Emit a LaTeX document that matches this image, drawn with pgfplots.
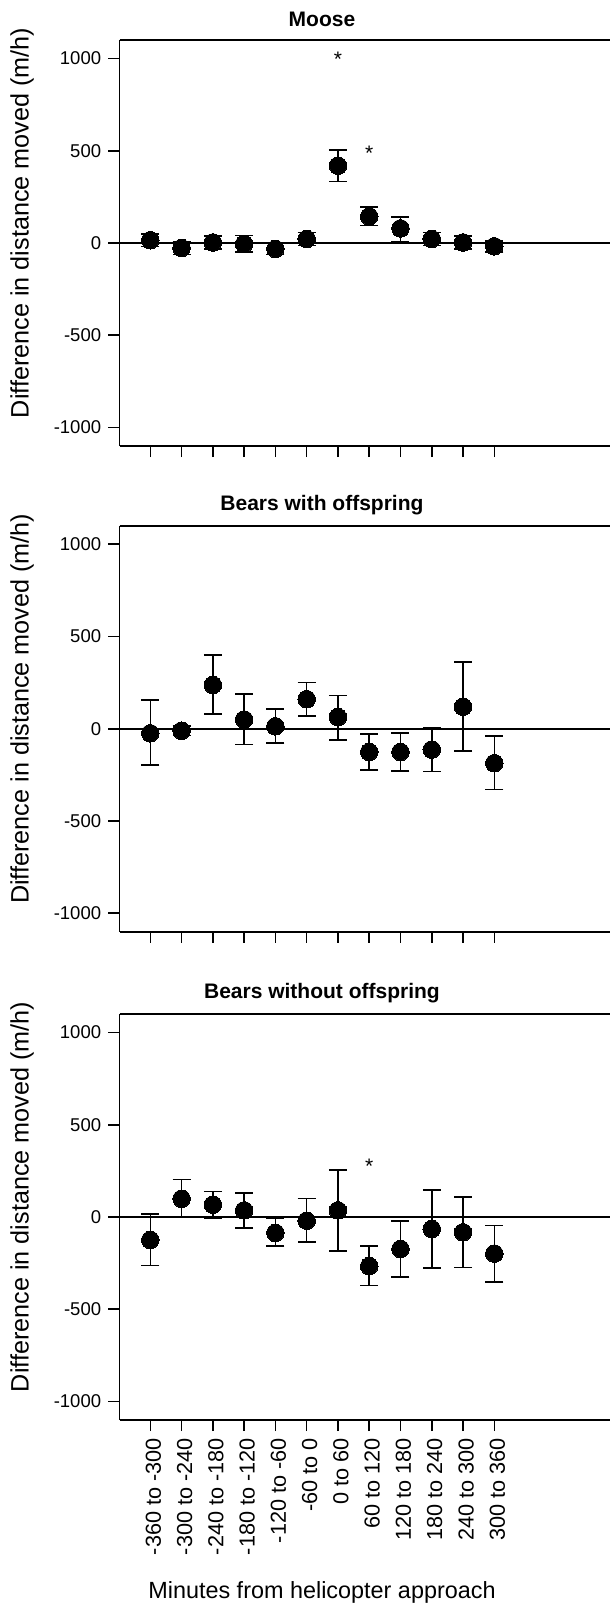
\documentclass[border=0pt]{standalone}
\usepackage{pgfplots}
\pgfplotsset{compat=1.18}
\usepackage{pgfplotstable}
\usepackage{fontspec}
\setmainfont{Liberation Sans}

\pgfplotstableread{
x y ep em
1 15 35 35
2 -27 35 35
3 3 35 35
4 -5 45 45
5 -32 30 30
6 22 35 35
7 419 85 86
8 144 50 50
9 79 61 74
10 22 35 35
11 3 35 35
12 -18 30 30
}\moose

\pgfplotstableread{
x y ep em
1 -25 180 171
2 -11 25 25
3 237 164 158
4 50 137 136
5 13 95 92
6 160 90 92
7 63 117 124
8 -126 97 97
9 -126 104 102
10 -113 117 119
11 119 243 241
12 -187 146 142
}\bearswith

\pgfplotstableread{
x y ep em
1 -124 140 139
2 99 104 97
3 67 71 74
4 36 94 95
5 -86 79 72
6 -20 121 115
7 36 219 219
8 -266 108 105
9 -173 153 153
10 -65 211 212
11 -83 193 190
12 -198 153 153
}\bearswithout

\pgfplotstableread{
x y s
7 993 *
8 485 *
}\moosestars

\pgfplotstableread{
x y s
8 276 *
}\bearstars

\pgfplotsset{
  panel/.style={
    anchor=north west,
    scale only axis,
    width=245.25pt, height=203pt,
    xmin=0.015, xmax=15.7,
    ymin=-1100, ymax=1100,
    axis x line=box, axis y line=left,
    axis line style={-, line width=0.8pt, black},
    xtick={1,...,12},
    ytick={-1000,-500,0,500,1000},
    yticklabels={-1000,-500,0,500,1000},
    xtick pos=bottom,
    tick align=outside,
    major tick length=5.5pt,
    tick style={line width=0.8pt, black},
    /pgf/number format/assume math mode=true,
    yticklabel style={font=\fontsize{9.25}{11}\selectfont, inner sep=2pt, xshift=-1.5pt},
    xticklabel style={font=\fontsize{10.85}{12}\selectfont, rotate=90, anchor=east, yshift=-1.5pt},
    every axis title/.style={at={(axis description cs:0.4128,1)}, anchor=center, yshift=10.5pt, font=\bfseries\fontsize{10.5}{12}\selectfont},
    every axis y label/.style={at={(axis description cs:0,0.5)}, xshift=-48.75pt, yshift=10pt, rotate=90, anchor=center, font=\fontsize{12.6}{14}\selectfont},
    every axis x label/.style={at={(axis description cs:0.4128,0)}, yshift=-86pt, anchor=center, font=\fontsize{11.7}{14}\selectfont},
    ylabel={Difference in distance moved (m/h)},
  },
  pts/.style={only marks, mark=*, mark size=4.4pt, black, mark options={fill=black, draw=black, line width=0pt},
    error bars/.cd, y dir=both, y explicit,
    error mark=|,
    error bar style={line width=0.8pt, black},
    error mark options={mark size=4.5pt, line width=0.8pt, black}},
  stars/.style={only marks, mark=none, point meta=explicit symbolic,
    nodes near coords, nodes near coords style={anchor=center, inner sep=0pt, font=\fontsize{10.5}{12}\selectfont}},
  zeroline/.style={black, line width=0.8pt, forget plot, no marks},
}

\begin{document}
\begin{tikzpicture}
\path[use as bounding box] (0pt,0pt) rectangle (305pt,-806pt);

\begin{axis}[panel, at={(59.75pt,-20pt)}, title={Moose}, xticklabels={}]
\addplot[zeroline] coordinates {(0.015,0) (15.7,0)};
\addplot[pts] table[x=x, y=y, y error plus=ep, y error minus=em] {\moose};
\addplot[stars] table[x=x, y=y, meta=s] {\moosestars};
\end{axis}

\begin{axis}[panel, at={(59.75pt,-262.85pt)}, title={Bears with offspring}, xticklabels={}]
\addplot[zeroline] coordinates {(0.015,0) (15.7,0)};
\addplot[pts] table[x=x, y=y, y error plus=ep, y error minus=em] {\bearswith};
\end{axis}

\begin{axis}[panel, at={(59.75pt,-507pt)}, title={Bears without offspring},
  xticklabels={-360 to -300,-300 to -240,-240 to -180,-180 to -120,-120 to -60,-60 to 0,0 to 60,60 to 120,120 to 180,180 to 240,240 to 300,300 to 360},
  xlabel={Minutes from helicopter approach}]
\addplot[zeroline] coordinates {(0.015,0) (15.7,0)};
\addplot[pts] table[x=x, y=y, y error plus=ep, y error minus=em] {\bearswithout};
\addplot[stars] table[x=x, y=y, meta=s] {\bearstars};
\end{axis}
\end{tikzpicture}
\end{document}
